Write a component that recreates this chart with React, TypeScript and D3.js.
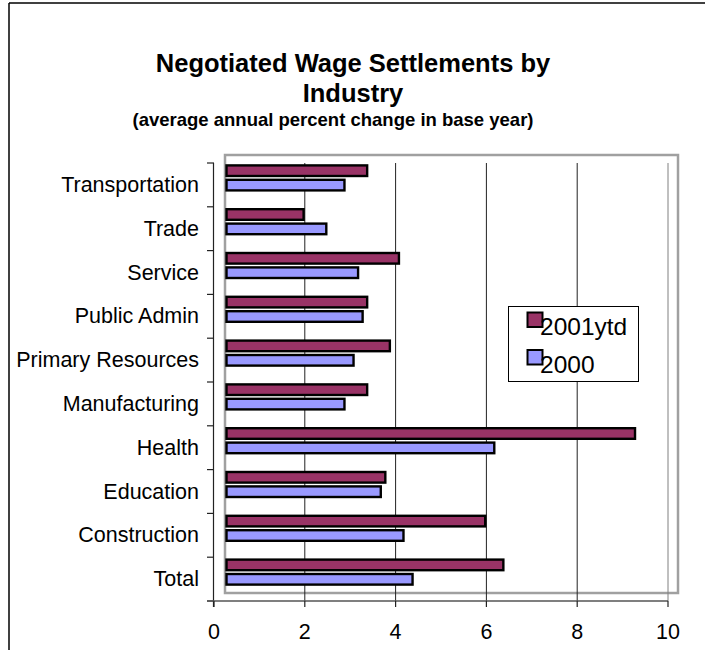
import React from "react";
import * as d3 from "d3";

const categories = [
  "Transportation",
  "Trade",
  "Service",
  "Public Admin",
  "Primary Resources",
  "Manufacturing",
  "Health",
  "Education",
  "Construction",
  "Total",
];
const series2001 = [3.4, 2.0, 4.1, 3.4, 3.9, 3.4, 9.3, 3.8, 6.0, 6.4];
const series2000 = [2.9, 2.5, 3.2, 3.3, 3.1, 2.9, 6.2, 3.7, 4.2, 4.4];
const seriesNames = ["2001ytd", "2000"];
const seriesColors = ["#993366", "#9999FF"];
const xTicks = [0, 2, 4, 6, 8, 10];

const FONT = "'Liberation Sans', Arial, Helvetica, sans-serif";

export default function App() {
  const W = 705;
  const H = 650;
  // axis frame
  const ax = { left: 214, right: 668, top: 163, bottom: 601 };
  // plot area (shifted panel)
  const pa = { left: 225, right: 678, top: 155, bottom: 593 };

  const x = d3.scaleLinear().domain([0, 10]).range([ax.left, ax.right]);
  const yAxis = d3.scaleBand<string>().domain(categories).range([ax.top, ax.bottom]);
  const yPlot = d3.scaleBand<string>().domain(categories).range([pa.top, pa.bottom]);

  const sw = 2.4;
  const barH = 13; // outer height incl. stroke
  const gap = 1.4;
  const groupH = barH * 2 + gap;

  const barLeft = pa.left + 1.5;

  return (
    <div style={{ position: "fixed", left: 0, top: 0 }}>
      <svg width={W} height={H} style={{ display: "block", background: "#fff" }}>
        <rect x={0} y={0} width={W} height={H} fill="#fff" />
        {/* outer frame */}
        <line x1={9} y1={3} x2={W} y2={3} stroke="#000" strokeWidth={1.5} />
        <line x1={9} y1={3} x2={9} y2={H} stroke="#000" strokeWidth={1.5} />

        {/* titles */}
        <text x={353} y={72} textAnchor="middle" fontFamily={FONT} fontWeight="bold" fontSize={25.5}>
          Negotiated Wage Settlements by
        </text>
        <text x={353} y={102} textAnchor="middle" fontFamily={FONT} fontWeight="bold" fontSize={25.5}>
          Industry
        </text>
        <text x={333} y={126} textAnchor="middle" fontFamily={FONT} fontWeight="bold" fontSize={18.5}>
          (average annual percent change in base year)
        </text>

        {/* plot area */}
        <rect
          x={pa.left}
          y={pa.top}
          width={pa.right - pa.left}
          height={pa.bottom - pa.top}
          fill="#fff"
          stroke="#a0a0a0"
          strokeWidth={2.5}
        />

        {/* gridlines */}
        {xTicks
          .filter((t) => t > 0)
          .map((t) => (
            <line
              key={"g" + t}
              x1={x(t)}
              x2={x(t)}
              y1={ax.top}
              y2={ax.bottom}
              stroke={t === 10 ? "#808080" : "#222"}
              strokeWidth={1}
            />
          ))}

        {/* bars */}
        {categories.map((c, i) => {
          const cy = (yPlot(c) as number) + yPlot.bandwidth() / 2 + 1;
          const y0 = cy - groupH / 2;
          const vals = [series2001[i], series2000[i]];
          return (
            <g key={c}>
              {vals.map((v, k) => (
                <rect
                  key={k}
                  x={barLeft}
                  y={y0 + k * (barH + gap) + sw / 2}
                  width={x(v) - barLeft - sw / 2}
                  height={barH - sw}
                  fill={seriesColors[k]}
                  stroke="#000"
                  strokeWidth={sw}
                />
              ))}
            </g>
          );
        })}

        {/* vertical axis */}
        <line x1={ax.left - 0.5} x2={ax.left - 0.5} y1={ax.top} y2={ax.bottom + 6} stroke="#222" strokeWidth={1.2} />
        {d3.range(categories.length + 1).map((i) => {
          const yy = ax.top + i * yAxis.step();
          return (
            <line key={"yt" + i} x1={ax.left - 7} x2={ax.left} y1={yy} y2={yy} stroke="#222" strokeWidth={1.2} />
          );
        })}
        {categories.map((c) => (
          <text
            key={"yl" + c}
            x={199}
            y={(yAxis(c) as number) + yAxis.bandwidth() / 2 + 7}
            textAnchor="end"
            fontFamily={FONT}
            fontSize={21.5}
            fill="#000"
          >
            {c}
          </text>
        ))}

        {/* horizontal axis */}
        <line x1={ax.left - 7} x2={ax.right} y1={ax.bottom} y2={ax.bottom} stroke="#555" strokeWidth={1.5} />
        {xTicks.map((t) => (
          <g key={"xt" + t}>
            <line x1={x(t)} x2={x(t)} y1={ax.bottom} y2={ax.bottom + 6} stroke="#222" strokeWidth={1.2} />
            <text x={x(t)} y={639} textAnchor="middle" fontFamily={FONT} fontSize={21.5} fill="#000">
              {t}
            </text>
          </g>
        ))}

        {/* legend */}
        <rect x={508.5} y={306.5} width={130} height={75} fill="#fff" stroke="#000" strokeWidth={1} />
        {seriesNames.map((n, k) => (
          <g key={n}>
            <rect
              x={527.5}
              y={312.5 + k * 37.5}
              width={15}
              height={14.5}
              fill={seriesColors[k]}
              stroke="#000"
              strokeWidth={2}
            />
            <text x={540} y={335 + k * 37.7} fontFamily={FONT} fontSize={24.5} fill="#000">
              {n}
            </text>
          </g>
        ))}
      </svg>
    </div>
  );
}
